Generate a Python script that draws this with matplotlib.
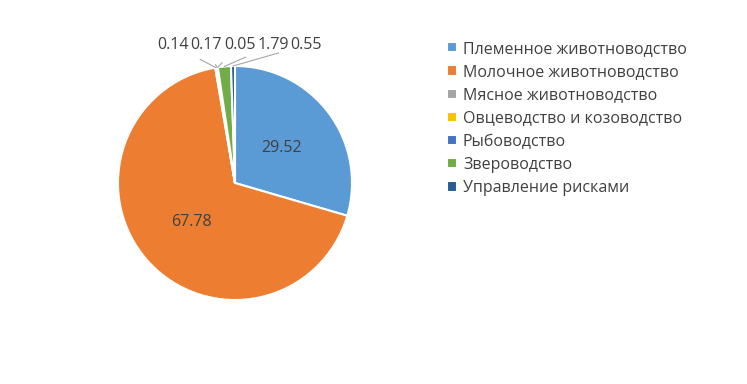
import numpy as np
import matplotlib.pyplot as plt

# data
categories = ['Племенное животноводство', 'Молочное животноводство', 'Мясное животноводство',
              'Овцеводство и козоводство', 'Рыбоводство', 'Звероводство', 'Управление рисками']
values = [29.52, 67.78, 0.14, 0.17, 0.05, 1.79, 0.55]
colors = ['#5B9BD5', '#ED7D31', '#A5A5A5', '#FFC000', '#4472C4', '#70AD47', '#255E91']

plt.rcParams['font.family'] = ['Open Sans', 'DejaVu Sans']

W, H = 747, 384
fig = plt.figure(figsize=(W / 100, H / 100), dpi=100)

# pie centred at (235, 183) px, radius 117 px
cx, cy, R = 235, 183, 117
ax = fig.add_axes([(cx - R) / W, (H - cy - R) / H, 2 * R / W, 2 * R / H])

wedges, _ = ax.pie(values, colors=colors, startangle=90, counterclock=False,
                   wedgeprops=dict(edgecolor='white', linewidth=1.5))
ax.set_xlim(-1, 1)
ax.set_ylim(-1, 1)
ax.set_aspect('equal')
ax.axis('off')

# labels of the two big slices inside
for w, v in zip(wedges, values):
    if v < 5:
        continue
    ang = np.deg2rad((w.theta1 + w.theta2) / 2)
    ax.text(0.5 * np.cos(ang), 0.5 * np.sin(ang), f'{v:.2f}', ha='center', va='center',
            fontsize=11.5, color='#404040')

# small slices: labels above with leader lines
small_x = [-0.53, -0.245, 0.04, 0.325, 0.61]
small = [(w, v) for w, v in zip(wedges, values) if v < 5]
for (w, v), lx in zip(small, small_x):
    ang = np.deg2rad((w.theta1 + w.theta2) / 2)
    ax.annotate(f'{v:.2f}', xy=(np.cos(ang), np.sin(ang)), xytext=(lx, 1.18),
                ha='center', va='center', fontsize=11.5, color='#404040',
                annotation_clip=False,
                arrowprops=dict(arrowstyle='-', color='#A6A6A6', lw=0.8,
                                shrinkA=7, shrinkB=0))

fig.legend(wedges, categories, loc='upper left', bbox_to_anchor=(439 / W, 1 - 33 / H),
           frameon=False, fontsize=11.5, labelcolor='#404040', handlelength=0.6,
           handleheight=0.6, handletextpad=0.4, labelspacing=0.45, borderpad=0)

fig.savefig('out.png', dpi=100)
